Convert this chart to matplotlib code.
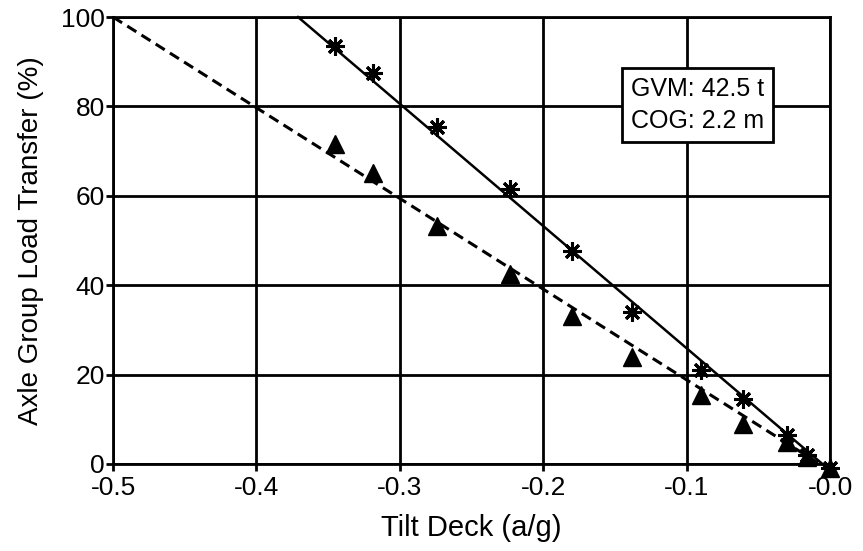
import matplotlib.pyplot as plt

plt.rcParams['font.family'] = ['Liberation Sans', 'DejaVu Sans']

# measured points
tilt = [-0.345, -0.319, -0.274, -0.223, -0.180, -0.138, -0.090, -0.061, -0.030, -0.016, 0.0]
transfer_star = [93.6, 87.4, 75.5, 61.5, 47.6, 34.0, 21.0, 14.5, 6.5, 2.0, -1.0]
transfer_tri = [71.7, 65.0, 53.2, 42.5, 33.0, 24.0, 15.5, 9.0, 5.0, 1.5, -1.0]

# fitted lines
solid_x = [-0.371, 0.0]
solid_y = [100, -1.5]
dashed_x = [-0.5, 0.0]
dashed_y = [100, -1.5]

xticks = [-0.5, -0.4, -0.3, -0.2, -0.1, 0.0]
xticklabels = ['-0.5', '-0.4', '-0.3', '-0.2', '-0.1', '-0.0']
yticks = [0, 20, 40, 60, 80, 100]

fig = plt.figure(figsize=(8.63, 5.51), dpi=100)
ax = fig.add_axes([0.131, 0.158, 0.831, 0.811])

ax.plot(solid_x, solid_y, color='black', lw=1.8, clip_on=False, zorder=3)
ax.plot(dashed_x, dashed_y, color='black', lw=2.2, ls=(0, (3.5, 2)), clip_on=False, zorder=3)
ax.plot(tilt, transfer_star, ls='none', marker=(8, 2, 0), ms=13, mew=2.2,
        color='black', clip_on=False, zorder=4)
ax.plot(tilt, transfer_tri, ls='none', marker='^', ms=13, color='black',
        clip_on=False, zorder=4)

ax.set_xlim(-0.5, 0.0)
ax.set_ylim(0, 100)
ax.set_xticks(xticks)
ax.set_xticklabels(xticklabels)
ax.set_yticks(yticks)
ax.grid(True, color='black', lw=2.0)
ax.set_axisbelow(True)
for s in ax.spines.values():
    s.set_linewidth(2.0)
ax.tick_params(direction='out', length=5, width=2, labelsize=19)
ax.tick_params(axis='x', pad=4)
ax.tick_params(axis='y', pad=1)

ax.set_xlabel('Tilt Deck (a/g)', fontsize=21, labelpad=10)
ax.set_ylabel('Axle Group Load Transfer (%)', fontsize=20, labelpad=12)

ax.text(0.815, 0.803, 'GVM: 42.5 t\nCOG: 2.2 m', transform=ax.transAxes,
        ha='center', va='center', fontsize=18, linespacing=1.45,
        bbox=dict(boxstyle='square,pad=0.35', fc='white', ec='black', lw=2))

fig.savefig('out.png', dpi=100)
